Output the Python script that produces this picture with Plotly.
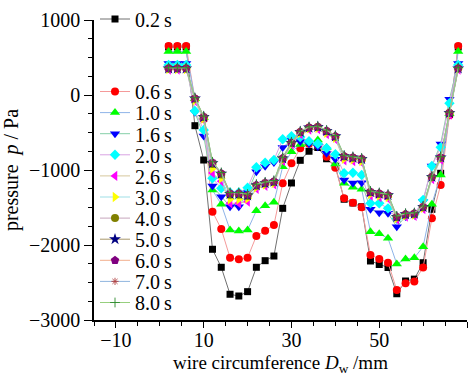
import plotly.graph_objects as go

# ---------------- data ----------------
x_dw = [2, 4, 6, 8, 10, 12, 14, 16, 18, 20, 22, 24, 26, 28, 30, 32, 34,
        36, 38, 40, 42, 44, 46, 48, 50, 52, 54, 56, 58, 60, 62, 64, 66, 68]

labels = ["0.2\u2009s", "0.6\u2009s", "1.0\u2009s", "1.6\u2009s", "2.0\u2009s", "2.6\u2009s",
          "3.0\u2009s", "4.0\u2009s", "5.0\u2009s", "6.0\u2009s", "7.0\u2009s", "8.0\u2009s"]

p_02 = [640, 640, 640, -409, -867, -2057, -2297, -2657, -2680, -2622, -2297, -2209, -2147, -1511,
        -1173, -871, -750, -700, -850, -950, -1390, -1440, -1490, -2213, -2260, -2300, -2650,
        -2480, -2455, -2236, -1524, -1044, -260, 640]
p_06 = [655, 655, 655, -60, -320, -1556, -1787, -2169, -2191, -2169, -1880, -1809, -1733, -1178,
        -911, -711, -650, -670, -822, -970, -1378, -1436, -1495, -2133, -2187, -2235, -2600,
        -2511, -2485, -2300, -1644, -1200, -270, 655]
p_10 = [580, 580, 580, -50, -300, -1267, -1458, -1800, -1813, -1800, -1542, -1476, -1431, -956,
        -756, -660, -640, -600, -700, -920, -1178, -1231, -1258, -1822, -1850, -1911, -2253,
        -2187, -2171, -2022, -1455, -1067, -250, 580]
p_16 = [420, 420, 420, -230, -547, -1213, -1356, -1489, -1489, -1300, -1022, -950, -900, -700,
        -600, -620, -650, -690, -778, -858, -1133, -1173, -1170, -1524, -1569, -1578, -1756,
        -1620, -1600, -1420, -947, -653, -55, 420]
p_20 = [400, 400, 400, -213, -467, -1111, -1244, -1300, -1300, -1236, -964, -902, -867, -591,
        -550, -560, -615, -650, -711, -791, -1044, -1036, -1067, -1444, -1444, -1511, -1650,
        -1600, -1590, -1400, -947, -698, -110, 400]
p_26 = [340, 340, 340, -80, -330, -1040, -1150, -1444, -1444, -1420, -1250, -1210, -1190, -880,
        -660, -520, -460, -455, -520, -590, -870, -880, -900, -1340, -1360, -1380, -1660,
        -1620, -1610, -1520, -1120, -860, -260, 340]
p_30 = [345, 345, 345, -70, -315, -980, -1110, -1390, -1390, -1380, -1230, -1195, -1175, -865,
        -650, -505, -445, -440, -505, -570, -850, -860, -880, -1320, -1340, -1360, -1645,
        -1605, -1595, -1505, -1105, -845, -250, 345]
p_40 = [352, 352, 352, -50, -295, -920, -1060, -1330, -1330, -1345, -1210, -1180, -1160, -850,
        -640, -495, -437, -428, -483, -555, -820, -838, -858, -1298, -1320, -1342, -1630,
        -1595, -1585, -1495, -1095, -835, -240, 352]
p_50 = [354, 354, 354, -46, -292, -910, -1050, -1320, -1320, -1340, -1205, -1175, -1155, -845,
        -638, -492, -434, -425, -480, -551, -816, -834, -854, -1293, -1315, -1337, -1626,
        -1590, -1581, -1492, -1092, -832, -238, 354]
p_60 = [356, 356, 356, -44, -289, -900, -1044, -1311, -1311, -1333, -1200, -1170, -1150, -840,
        -636, -489, -431, -422, -476, -547, -813, -831, -850, -1289, -1311, -1333, -1622,
        -1587, -1578, -1489, -1089, -830, -236, 356]
p_70 = [360, 360, 360, -40, -285, -895, -1038, -1305, -1305, -1326, -1195, -1165, -1145, -835,
        -632, -486, -428, -419, -472, -543, -808, -826, -845, -1284, -1306, -1328, -1617,
        -1583, -1574, -1485, -1085, -826, -232, 360]
p_80 = [364, 364, 364, -36, -281, -890, -1033, -1300, -1300, -1320, -1190, -1160, -1140, -830,
        -628, -482, -425, -416, -468, -540, -804, -822, -841, -1280, -1302, -1324, -1612,
        -1578, -1570, -1480, -1080, -822, -228, 364]

series = [p_02, p_06, p_10, p_16, p_20, p_26, p_30, p_40, p_50, p_60, p_70, p_80]

# ---------------- styles ----------------
styles = [
    dict(symbol="square", color="#000000", line="#707070", size=7),
    dict(symbol="circle", color="#FF0000", line="#F49A9A", size=8),
    dict(symbol="triangle-up", color="#00FF00", line="#8FB4E8", size=9),
    dict(symbol="triangle-down", color="#0000FF", line="#86CFA8", size=9),
    dict(symbol="diamond", color="#00FFFF", line="#D9A3E3", size=8),
    dict(symbol="triangle-left", color="#FF00FF", line="#D6C79C", size=9),
    dict(symbol="triangle-right", color="#FFFF00", line="#9FDFE6", size=9),
    dict(symbol="circle", color="#808000", line="#C6A5BC", size=8),
    dict(symbol="star", color="#000080", line="#A8976A", size=9),
    dict(symbol="pentagon", color="#800080", line="#F2AE8C", size=9),
    dict(symbol="asterisk-open", color="#B04040", line="#8FB5DE", size=6),
    dict(symbol="cross-thin-open", color="#2E8B2E", line="#97CF7E", size=7),
]

FONT = "Liberation Serif, Times New Roman, serif"
TXT = 20
XTXT = 19

fig = go.Figure()

# each series gets its own one-entry legend so entries can sit at the original spacing
leg_names = ["legend"] + ["legend%d" % (i + 1) for i in range(1, len(labels))]

for lab, ys, st, lg in zip(labels, series, styles, leg_names):
    open_sym = st["symbol"].endswith("-open")
    fig.add_trace(go.Scatter(
        x=x_dw, y=ys, name=lab, mode="lines+markers", legend=lg, showlegend=True,
        line=dict(color=st["line"], width=1),
        marker=dict(symbol=st["symbol"], size=st["size"], color=st["color"],
                    line=dict(width=0.9 if open_sym else 0, color=st["color"])),
    ))

plot_top_px, plot_h_px = 20, 300
plot_left_px, plot_w_px = 94, 372.7
leg_left_px = 95

def leg_y(center_px):
    return (plot_top_px + plot_h_px - center_px) / plot_h_px

centers = [19.0] + [91.5 + 21.1 * k for k in range(len(labels) - 1)]

legends = {}
for lg, cy in zip(leg_names, centers):
    legends[lg] = dict(
        x=(leg_left_px - plot_left_px) / plot_w_px, xanchor="left",
        y=leg_y(cy), yanchor="middle",
        bgcolor="rgba(0,0,0,0)", borderwidth=0,
        font=dict(family=FONT, size=TXT, color="black"),
        itemwidth=30, visible=True,
    )

fig.update_layout(
    width=473, height=376,
    margin=dict(l=94, r=6, t=20, b=56, autoexpand=False),
    paper_bgcolor="white", plot_bgcolor="white",
    font=dict(family=FONT, size=TXT, color="black"),
    showlegend=True,
    **legends,
    xaxis=dict(
        range=[-15, 70], tick0=-10, dtick=20, automargin=False,
        showline=True, linecolor="black", linewidth=1.5, mirror=False,
        showgrid=False, zeroline=False,
        ticks="outside", ticklen=6, tickwidth=1.2, tickcolor="black",
        ticklabelstandoff=-5,
        minor=dict(dtick=5, tick0=-10, ticks="outside", ticklen=4, tickwidth=1.2,
                   tickcolor="black", showgrid=False),
        tickfont=dict(family=FONT, size=TXT, color="black"),
        title=dict(text="wire circumference <i>D</i><sub>w</sub> /mm",
                   font=dict(family=FONT, size=XTXT, color="black"), standoff=14),
    ),
    yaxis=dict(
        range=[-3000, 1000], tick0=0, dtick=1000, automargin=False,
        showline=True, linecolor="black", linewidth=1.5, mirror=False,
        showgrid=False, zeroline=False,
        ticks="outside", ticklen=8, tickwidth=1.2, tickcolor="black",
        minor=dict(dtick=250, ticks="outside", ticklen=4, tickwidth=1.2,
                   tickcolor="black", showgrid=False),
        tickfont=dict(family=FONT, size=TXT, color="black"),
        title=dict(text="pressure  <i>p</i> / Pa",
                   font=dict(family=FONT, size=TXT, color="black"), standoff=6),
    ),
)

fig.write_html("out.html")
